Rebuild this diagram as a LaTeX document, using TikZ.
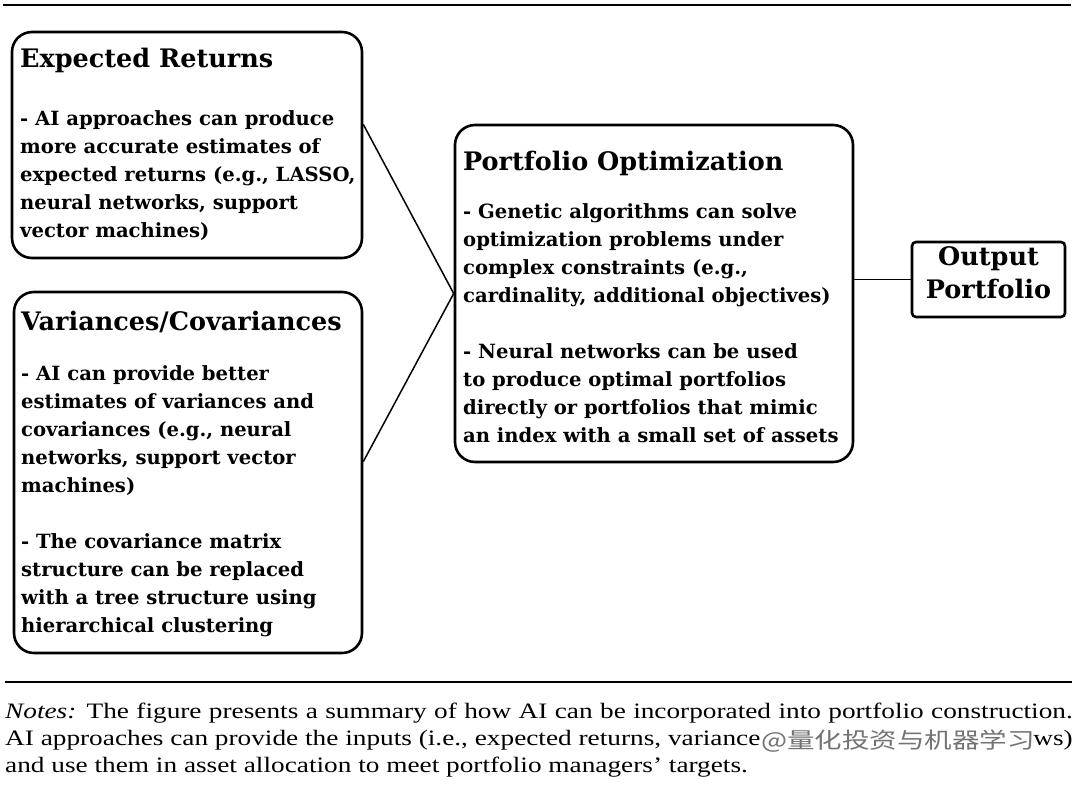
\documentclass[tikz,border=0pt]{standalone}
\usepackage{fontspec}
\setmainfont{Liberation Serif}
\newfontfamily\boxfont{DejaVu Serif}
\newfontfamily\notefont{Liberation Serif}
\newfontfamily\cjk{Noto Sans CJK SC}
\usetikzlibrary{calc}
\newcommand{\nsz}{\notefont\fontsize{22}{27.5}\selectfont}
\newcommand{\nscale}[1]{\scalebox{1.24}[1]{#1}}
\tikzset{
  panel/.style={draw=black, line width=2.6pt, rounded corners=20pt, inner sep=0pt},
  outbox/.style={draw=black, line width=2.6pt, rounded corners=4pt, inner sep=0pt},
  link/.style={draw=black, line width=1.5pt},
  rule/.style={draw=black, line width=2.6pt},
  ttl/.style={font=\boxfont\bfseries\fontsize{25.5}{33}\selectfont, anchor=base west, inner sep=0pt},
  body/.style={font=\boxfont\bfseries\fontsize{19.6}{28}\selectfont, anchor=base west, inner sep=0pt},
  note/.style={anchor=base west, inner sep=0pt},
}
\begin{document}
\begin{tikzpicture}[x=1pt,y=-1pt]
\fill[white] (0,0) rectangle (1080,796);
\useasboundingbox (0,0) rectangle (1080,796);
% rules
\draw[rule] (3,5) -- (1071,5);
\draw[rule] (5,682) -- (1072,682);
% boxes
\node[panel, minimum width=350pt, minimum height=226pt] (er) at (187,145) {};
\node[panel, minimum width=348pt, minimum height=361pt] (var) at (188,472.5) {};
\node[panel, minimum width=398pt, minimum height=337pt] (po) at (654,293.5) {};
\node[outbox, minimum width=153pt, minimum height=75pt] (out) at (988.5,279.5) {};
% connectors
\draw[link] ($(er.north east)!0.41!(er.south east)$) -- (po.west);
\draw[link] ($(var.north east)!0.47!(var.south east)$) -- (po.west);
\draw[link] (out.west) -- (out.west -| po.east);
% texts
\node[ttl] (ert) at (20,67) {Expected Returns};
\node[body] (erb) at (20,125) {\begin{tabular}[t]{@{}l@{}}- AI approaches can produce\\more accurate estimates of\\expected returns (e.g., LASSO,\\neural networks, support\\vector machines)\end{tabular}};
\node[ttl] (vart) at (21,330) {Variances/Covariances};
\node[body] (varb) at (21,380) {\begin{tabular}[t]{@{}l@{}}- AI can provide better\\estimates of variances and\\covariances (e.g., neural\\networks, support vector\\machines)\\ \\- The covariance matrix\\structure can be replaced\\with a tree structure using\\hierarchical clustering\end{tabular}};
\node[ttl] (pot) at (463,170) {Portfolio Optimization};
\node[body] (pob) at (463,218) {\begin{tabular}[t]{@{}l@{}}- Genetic algorithms can solve\\optimization problems under\\complex constraints (e.g.,\\cardinality, additional objectives)\\ \\- Neural networks can be used\\to produce optimal portfolios\\directly or portfolios that mimic\\an index with a small set of assets\end{tabular}};
\node[ttl, anchor=base] (outt) at (988.5,265) {\begin{tabular}[t]{@{}c@{}}Output\\Portfolio\end{tabular}};
% notes
\node[note] (n1) at (5,718) {\nscale{\makebox[861pt][s]{\nsz\textit{Notes:} The figure presents a summary of how AI can be incorporated into portfolio construction.}}};
\node[note] (n2) at (5,745) {\nscale{\makebox[609pt][s]{\nsz AI approaches can provide the inputs (i.e., expected returns, variance}}};
\node[note, anchor=base east] (n2b) at (1073,745) {\nscale{\nsz ws)}};
\node[note] (n3) at (5,772) {\nscale{\nsz and use them in asset allocation to meet portfolio managers’ targets.}};
\node[inner sep=0pt, text=black!55] (wm) at (898,741) {\scalebox{1.25}[1]{\cjk\fontsize{22}{22}\selectfont @量化投资与机器学习}};
\end{tikzpicture}
\end{document}
